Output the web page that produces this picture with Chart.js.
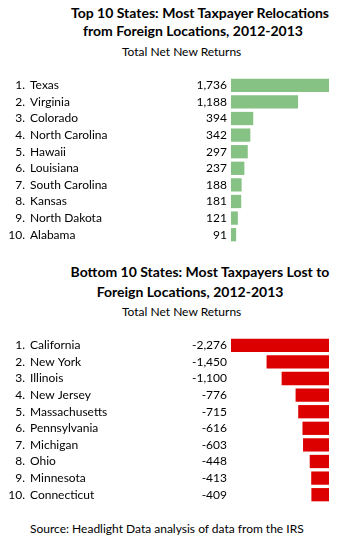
<!DOCTYPE html>
<html>
<head>
<meta charset="utf-8">
<script src="https://cdn.jsdelivr.net/npm/chart.js@4"></script>
<style>
  body { margin: 0; width: 361px; height: 536px; position: relative; background: #fff; font-family: Lato, "Open Sans", sans-serif; color: #000; }
  .title { position: absolute; width: 300px; text-align: center; font-weight: bold; font-size: 14px; line-height: 19px; white-space: nowrap; }
  .sub { position: absolute; font-size: 12px; white-space: nowrap; }
  canvas { position: absolute; left: 0; }
</style>
</head>
<body>
<div class="title" style="top:3px; left:50px;">Top 10 States: Most Taxpayer Relocations</div>
<div class="title" style="top:21px; left:43px;">from Foreign Locations, 2012-2013</div>
<div class="sub" style="top:44px; left:122px;">Total Net New Returns</div>
<canvas id="top-chart" width="361" height="176" style="top:70px"></canvas>

<div class="title" style="top:262px; left:50px;">Bottom 10 States: Most Taxpayers Lost to</div>
<div class="title" style="top:282px; left:40px;">Foreign Locations, 2012-2013</div>
<div class="sub" style="top:304px; left:122px;">Total Net New Returns</div>
<canvas id="bottom-chart" width="361" height="176" style="top:330px"></canvas>

<div class="sub" style="top:521px; left:30px;">Source: Headlight Data analysis of data from the IRS</div>

<script>
const topStates = ['Texas', 'Virginia', 'Colorado', 'North Carolina', 'Hawaii',
  'Louisiana', 'South Carolina', 'Kansas', 'North Dakota', 'Alabama'];
const topValues = [1736, 1188, 394, 342, 297, 237, 188, 181, 121, 91];

const bottomStates = ['California', 'New York', 'Illinois', 'New Jersey', 'Massachusetts',
  'Pennsylvania', 'Michigan', 'Ohio', 'Minnesota', 'Connecticut'];
const bottomValues = [-2276, -1450, -1100, -776, -715, -616, -603, -448, -413, -409];

// draws "1.  Texas ........ 1,736" next to each bar
const rowLabels = {
  id: 'rowLabels',
  afterDatasetsDraw(chart) {
    const ctx = chart.ctx;
    const meta = chart.getDatasetMeta(0);
    const vals = chart.data.datasets[0].data;
    ctx.save();
    ctx.font = '12px Lato, "Open Sans", sans-serif';
    ctx.fillStyle = '#000';
    ctx.textBaseline = 'middle';
    meta.data.forEach((bar, i) => {
      ctx.textAlign = 'right';
      ctx.fillText((i + 1) + '.', 25, bar.y);
      ctx.fillText(vals[i].toLocaleString('en-US'), 227, bar.y);
      ctx.textAlign = 'left';
      ctx.fillText(chart.data.labels[i], 30, bar.y);
    });
    ctx.restore();
  }
};

function makeChart(id, labels, values, color, min, max) {
  return new Chart(document.getElementById(id).getContext('2d'), {
    type: 'bar',
    data: {
      labels: labels,
      datasets: [{
        data: values,
        backgroundColor: color,
        borderWidth: 0,
        barPercentage: 0.8,
        categoryPercentage: 1
      }]
    },
    options: {
      indexAxis: 'y',
      responsive: false,
      animation: false,
      layout: { padding: { left: 231, right: 32, top: 7, bottom: 3 } },
      plugins: { legend: { display: false }, tooltip: { enabled: false } },
      scales: {
        x: { display: false, min: min, max: max },
        y: { display: false }
      }
    },
    plugins: [rowLabels]
  });
}

makeChart('top-chart', topStates, topValues, '#86c283', 0, Math.max(...topValues));
makeChart('bottom-chart', bottomStates, bottomValues, '#dd0000', Math.min(...bottomValues), 0);
</script>
</body>
</html>
